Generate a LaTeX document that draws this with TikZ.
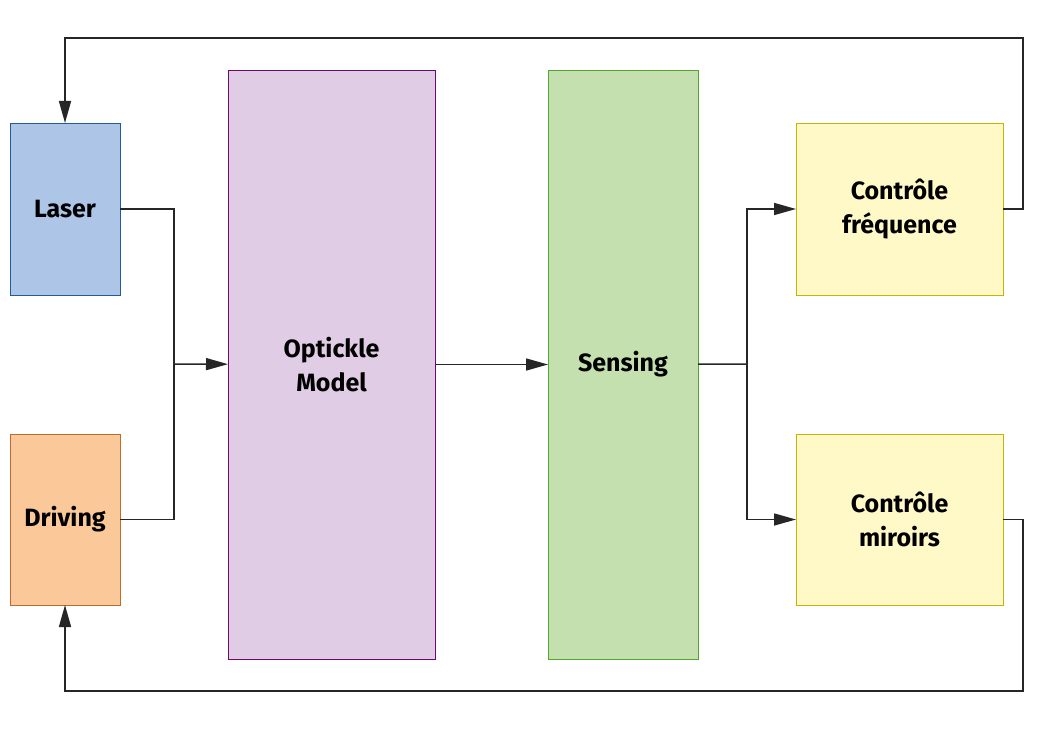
\documentclass[tikz,border=0pt]{standalone}
\usepackage{fontspec}
\setmainfont{Fira Sans}
\usetikzlibrary{arrows.meta}

\definecolor{laserfill}{HTML}{ADC6E8}
\definecolor{laserline}{HTML}{1F5C99}
\definecolor{drivefill}{HTML}{FBC89A}
\definecolor{driveline}{HTML}{C06A2B}
\definecolor{modelfill}{HTML}{E0CCE4}
\definecolor{modelline}{HTML}{6A0A6A}
\definecolor{sensefill}{HTML}{C4E0AE}
\definecolor{senseline}{HTML}{4EA72E}
\definecolor{ctrlfill}{HTML}{FFF9C8}
\definecolor{ctrlline}{HTML}{C8B400}

\tikzset{
  block/.style={rectangle, inner sep=0pt, outer sep=0pt, align=center,
    font=\fontsize{25}{34}\selectfont\bfseries, text=black, line width=0.8pt},
  wire/.style={line width=1.5pt, draw=black!85},
}

\begin{document}
\begin{tikzpicture}[x=1pt,y=-1pt,>={Triangle[length=22pt,width=12pt]}]
\useasboundingbox (0,0) rectangle (1056,730);
\node[block, fill=laserfill, draw=laserline, minimum width=110pt, minimum height=172pt] (laser) at (65,209) {Laser};
\node[block, fill=drivefill, draw=driveline, minimum width=110pt, minimum height=171pt] (driving) at (65,519.5) {Driving};
\node[block, fill=modelfill, draw=modelline, minimum width=207pt, minimum height=589pt] (model) at (331.5,364.5) {Optickle\\Model};
\node[block, fill=sensefill, draw=senseline, minimum width=150pt, minimum height=589pt] (sensing) at (623,364.5) {Sensing};
\node[block, fill=ctrlfill, draw=ctrlline, minimum width=207pt, minimum height=172pt] (freq) at (899.5,209) {Contrôle\\fréquence};
\node[block, fill=ctrlfill, draw=ctrlline, minimum width=207pt, minimum height=171pt] (miroirs) at (899.5,519.5) {Contrôle\\miroirs};
\coordinate (in) at (174,364);
\coordinate (out) at (747,364);
\coordinate (top) at (65,38);
\coordinate (bottom) at (65,691);
\draw[wire] (laser) -| (in);
\draw[wire] (driving) -| (in);
\draw[wire,->] (in) -- (model);
\draw[wire,->] (model) -- (sensing);
\draw[wire] (sensing) -- (out);
\draw[wire,->] (out) |- (freq);
\draw[wire,->] (out) |- (miroirs);
\draw[wire,->] (freq.east) -- ++(20,0) |- (top) -- (laser);
\draw[wire,->] (miroirs.east) -- ++(20,0) |- (bottom) -- (driving);
\end{tikzpicture}
\end{document}
